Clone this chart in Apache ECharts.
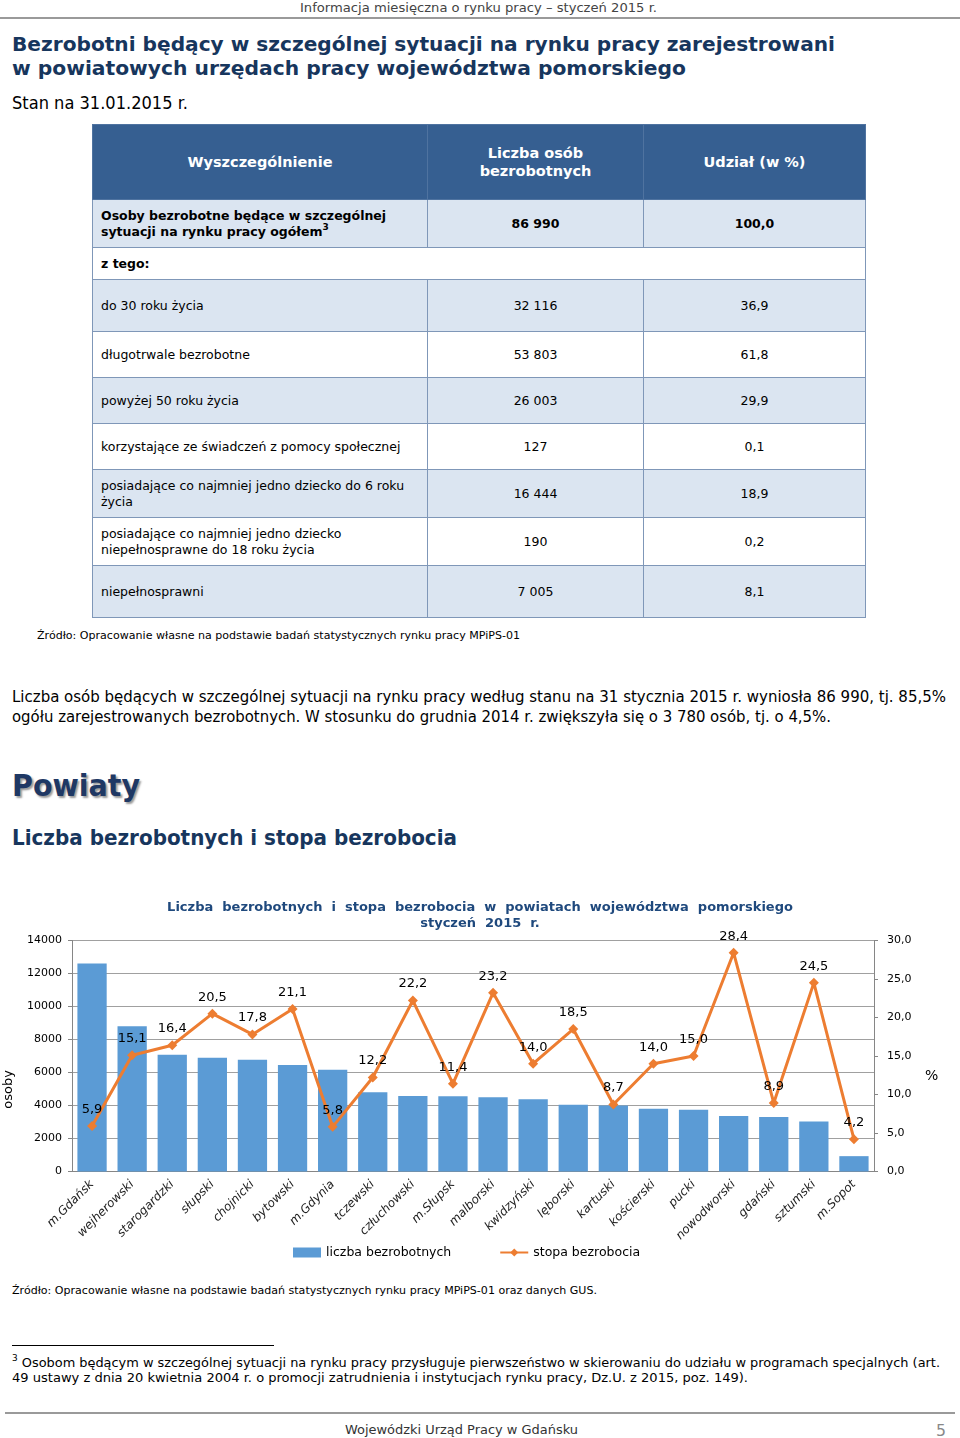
<!DOCTYPE html>
<html lang="pl">
<head>
<meta charset="utf-8">
<script src="https://cdn.jsdelivr.net/npm/echarts@6/dist/echarts.min.js"></script>
<style>
  html, body { margin:0; padding:0; background:#fff; }
  body { width:960px; height:1438px; position:relative; overflow:hidden; font-family:"DejaVu Sans", Verdana, sans-serif; color:#000; }
  .t { position:absolute; white-space:nowrap; transform-origin:0 50%; }
  .rule { position:absolute; }
  table.tb { position:absolute; left:92px; top:124px; width:773px; border-collapse:collapse; table-layout:fixed; border:1.5px solid #3c4a5e; }
  table.tb td { border:1px solid #7f97b8; font-size:12.5px; padding:0 8px; line-height:16px; }
  table.tb td.c { text-align:center; }
  table.tb tr.h td { background:#365F91; color:#fff; font-weight:bold; font-size:14.5px; text-align:center; border-color:#4f73a0; line-height:18px; }
  table.tb tr.b td { background:#DBE5F1; }
  table.tb tr.w td { background:#fff; }
  table.tb tr.bold td { font-weight:bold; }
  sup { font-size:9px; vertical-align:6px; line-height:0; }
</style>
</head>
<body>
<div id="page"></div>
<div id="chart" style="position:absolute;left:0;top:880px;width:960px;height:400px;"></div>
<script>
// ---------- data ----------
const tableRowLabels = [
  "Osoby bezrobotne będące w szczególnej<br>sytuacji na rynku pracy ogółem<sup>3</sup>",
  "do 30 roku życia",
  "długotrwale bezrobotne",
  "powyżej 50 roku życia",
  "korzystające ze świadczeń z pomocy społecznej",
  "posiadające co najmniej jedno dziecko do 6 roku<br>życia",
  "posiadające co najmniej jedno dziecko<br>niepełnosprawne do 18 roku życia",
  "niepełnosprawni"
];
const tableCounts = ["86 990", "32 116", "53 803", "26 003", "127", "16 444", "190", "7 005"];
const tableShares = ["100,0", "36,9", "61,8", "29,9", "0,1", "18,9", "0,2", "8,1"];

const categories = ["m.Gdańsk","wejherowski","starogardzki","słupski","chojnicki","bytowski","m.Gdynia",
  "tczewski","człuchowski","m.Słupsk","malborski","kwidzyński","lęborski","kartuski","kościerski",
  "pucki","nowodworski","gdański","sztumski","m.Sopot"];
const unemployed = [12600, 8800, 7070, 6900, 6770, 6460, 6160, 4810, 4570, 4560, 4500, 4380, 4040, 4000,
  3800, 3740, 3370, 3310, 3030, 930];
const rates = [5.9, 15.1, 16.4, 20.5, 17.8, 21.1, 5.8, 12.2, 22.2, 11.4, 23.2, 14.0, 18.5, 8.7, 14.0,
  15.0, 28.4, 8.9, 24.5, 4.2];
const leftTicks = { min: 0, max: 14000, interval: 2000 };
const rightTicks = { min: 0, max: 30, interval: 5 };

// ---------- page ----------
const page = document.getElementById('page');
function addText(html, left, cy, w, style) {
  const d = document.createElement('div');
  d.className = 't';
  d.innerHTML = html;
  d.style.left = left + 'px';
  const fs = parseFloat(style.fontSize || 13);
  const lh = Math.round(fs * 1.3);
  d.style.lineHeight = lh + 'px';
  d.style.top = (cy - lh / 2) + 'px';
  Object.assign(d.style, style);
  d.dataset.w = w;
  page.appendChild(d);
  return d;
}
function addRule(left, top, width, height, color) {
  const d = document.createElement('div');
  d.className = 'rule';
  Object.assign(d.style, { left: left + 'px', top: top + 'px', width: width + 'px', height: height + 'px', background: color });
  page.appendChild(d);
}

addText("Informacja miesięczna o rynku pracy – styczeń 2015 r.", 300, 7, 357, { fontSize: '13px', color: '#444' });
addRule(0, 17, 960, 2, '#9a9a9a');
addText("Bezrobotni będący w szczególnej sytuacji na rynku pracy zarejestrowani", 12, 44, 823, { fontSize: '20px', fontWeight: 'bold', color: '#17365D' });
addText("w powiatowych urzędach pracy województwa pomorskiego", 12, 68, 674, { fontSize: '20px', fontWeight: 'bold', color: '#17365D' });
addText("Stan na 31.01.2015 r.", 12, 102, 176, { fontSize: '18px', color: '#000' });

// table
const rowsMeta = [
  { h: 48, cls: 'b bold' }, { h: 52, cls: 'b' }, { h: 46, cls: 'w' }, { h: 46, cls: 'b' },
  { h: 46, cls: 'w' }, { h: 48, cls: 'b' }, { h: 48, cls: 'w' }, { h: 52, cls: 'b' }
];
let th = '<table class="tb"><colgroup><col style="width:335px"><col style="width:216px"><col style="width:222px"></colgroup>';
th += '<tr class="h" style="height:75px"><td>Wyszczególnienie</td><td>Liczba osób<br>bezrobotnych</td><td>Udział (w %)</td></tr>';
tableRowLabels.forEach((lab, i) => {
  th += `<tr class="${rowsMeta[i].cls}" style="height:${rowsMeta[i].h}px"><td>${lab}</td><td class="c">${tableCounts[i]}</td><td class="c">${tableShares[i]}</td></tr>`;
  if (i === 0) th += '<tr class="w bold" style="height:32px"><td colspan="3">z tego:</td></tr>';
});
th += '</table>';
page.insertAdjacentHTML('beforeend', th);

addText("Źródło: Opracowanie własne na podstawie badań statystycznych rynku pracy MPiPS-01", 37, 636, 483, { fontSize: '11px' });
addText("Liczba osób będących w szczególnej sytuacji na rynku pracy według stanu na 31 stycznia 2015 r. wyniosła 86 990, tj. 85,5%", 12, 697, 934, { fontSize: '15px' });
addText("ogółu zarejestrowanych bezrobotnych. W stosunku do grudnia 2014 r. zwiększyła się o 3 780 osób, tj. o 4,5%.", 12, 717, 819, { fontSize: '15px' });
addText("Powiaty", 12, 785, 128, { fontSize: '30px', fontWeight: 'bold', color: '#1F3864', textShadow: '2px 2px 2px #9a9a9a' });
addText("Liczba bezrobotnych i stopa bezrobocia", 12, 838, 445, { fontSize: '21px', fontWeight: 'bold', color: '#17365D' });
addText("Źródło: Opracowanie własne na podstawie badań statystycznych rynku pracy MPiPS-01 oraz danych GUS.", 12, 1291, 585, { fontSize: '11px' });
addRule(12, 1345, 262, 1, '#000');
addText("<sup>3</sup> Osobom będącym w szczególnej sytuacji na rynku pracy przysługuje pierwszeństwo w skierowaniu do udziału w programach specjalnych (art.", 12, 1362, 928, { fontSize: '13px' });
addText("49 ustawy z dnia 20 kwietnia 2004 r. o promocji zatrudnienia i instytucjach rynku pracy, Dz.U. z 2015, poz. 149).", 12, 1377, 736, { fontSize: '13px' });
addRule(5, 1412, 950, 2, '#9a9a9a');
addText("Wojewódzki Urząd Pracy w Gdańsku", 345, 1429, 233, { fontSize: '13px', color: '#333' });
addText("5", 936, 1430, 10, { fontSize: '16px', color: '#888' });

document.querySelectorAll('.t').forEach(el => {
  const w = parseFloat(el.dataset.w);
  const nat = el.getBoundingClientRect().width;
  if (nat > 0) el.style.transform = `scaleX(${w / nat})`;
});

// ---------- chart ----------
const fmt1 = v => Number(v).toFixed(1).replace('.', ',');
const chart = echarts.init(document.getElementById('chart'), null, { renderer: 'canvas' });
chart.setOption({
  animation: false,
  textStyle: { fontFamily: 'DejaVu Sans' },
  title: {
    text: 'Liczba  bezrobotnych  i  stopa  bezrobocia  w  powiatach  województwa  pomorskiego\nstyczeń  2015  r.',
    left: 'center', top: 15,
    textStyle: { fontSize: 13, fontWeight: 'bold', color: '#1F497D', lineHeight: 16 }
  },
  grid: { left: 72, right: 86, top: 60.5, bottom: 108.5, containLabel: false, outerBoundsMode: 'none' },
  legend: {
    left: 288, top: 361, itemWidth: 28, itemHeight: 10, itemGap: 48,
    textStyle: { fontSize: 12.5, color: '#000' },
    data: [{ name: 'liczba bezrobotnych', icon: 'rect' }, { name: 'stopa bezrobocia' }]
  },
  xAxis: {
    type: 'category', data: categories,
    axisLine: { lineStyle: { color: '#868686' } },
    axisTick: { length: 5, lineStyle: { color: '#868686' } },
    axisLabel: { interval: 0, rotate: 45, fontStyle: 'italic', fontSize: 12, color: '#222', margin: 11 }
  },
  yAxis: [{
    type: 'value', min: leftTicks.min, max: leftTicks.max, interval: leftTicks.interval,
    axisLine: { show: true, lineStyle: { color: '#868686' } },
    axisTick: { show: true, length: 4, lineStyle: { color: '#868686' } },
    axisLabel: { fontSize: 11, color: '#000', margin: 10, formatter: v => String(v) },
    splitLine: { lineStyle: { color: '#a0a0a0' } }
  }, {
    type: 'value', position: 'right', min: rightTicks.min, max: rightTicks.max, interval: rightTicks.interval,
    axisLine: { show: true, lineStyle: { color: '#868686' } },
    axisTick: { show: true, length: 4, lineStyle: { color: '#868686' } },
    axisLabel: { fontSize: 11, color: '#000', margin: 13, formatter: fmt1 },
    splitLine: { show: false }
  }],
  graphic: [
    { type: 'text', left: 2, top: 190, rotation: Math.PI / 2, style: { text: 'osoby', fontSize: 13, fill: '#000', fontFamily: 'DejaVu Sans' } },
    { type: 'text', left: 925, top: 189, style: { text: '%', fontSize: 14, fill: '#000', fontFamily: 'DejaVu Sans' } }
  ],
  series: [{
    type: 'bar', name: 'liczba bezrobotnych', data: unemployed, barCategoryGap: '27%',
    itemStyle: { color: '#5B9BD5' }
  }, {
    type: 'line', name: 'stopa bezrobocia', yAxisIndex: 1, data: rates,
    symbol: 'diamond', symbolSize: 10,
    lineStyle: { width: 3, color: '#ED7D31' }, itemStyle: { color: '#ED7D31' },
    label: { show: true, position: 'top', distance: 5, fontSize: 13, color: '#000', formatter: p => fmt1(p.value) }
  }]
});
</script>
</body>
</html>
